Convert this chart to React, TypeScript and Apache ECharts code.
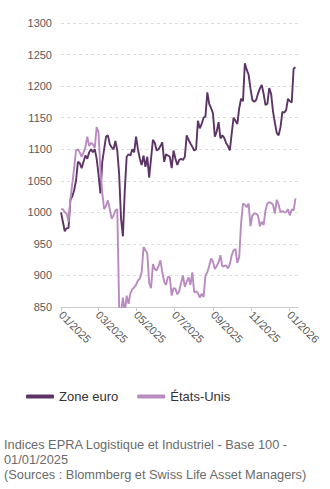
import React, { useEffect, useRef } from 'react';
import * as echarts from 'echarts';

const dates = [
  '2025-01-01','2025-01-04','2025-01-07','2025-01-10','2025-01-13','2025-01-16','2025-01-19','2025-01-22','2025-01-25','2025-01-28','2025-01-31',
  '2025-02-03','2025-02-06','2025-02-09','2025-02-12','2025-02-15','2025-02-18','2025-02-21','2025-02-24','2025-02-27',
  '2025-03-02','2025-03-05','2025-03-08','2025-03-11','2025-03-14','2025-03-17','2025-03-20','2025-03-23','2025-03-26','2025-03-29',
  '2025-04-01','2025-04-04','2025-04-07','2025-04-10','2025-04-13','2025-04-16','2025-04-19','2025-04-22','2025-04-25','2025-04-28',
  '2025-05-01','2025-05-04','2025-05-07','2025-05-10','2025-05-13','2025-05-16','2025-05-19','2025-05-22','2025-05-25','2025-05-28','2025-05-31',
  '2025-06-03','2025-06-06','2025-06-09','2025-06-12','2025-06-15','2025-06-18','2025-06-21','2025-06-24','2025-06-27','2025-06-30',
  '2025-07-03','2025-07-06','2025-07-09','2025-07-12','2025-07-15','2025-07-18','2025-07-21','2025-07-24','2025-07-27','2025-07-30',
  '2025-08-02','2025-08-05','2025-08-08','2025-08-11','2025-08-14','2025-08-17','2025-08-20','2025-08-23','2025-08-26','2025-08-29',
  '2025-09-01','2025-09-04','2025-09-07','2025-09-10','2025-09-13','2025-09-16','2025-09-19','2025-09-22','2025-09-25','2025-09-28',
  '2025-10-01','2025-10-04','2025-10-07','2025-10-10','2025-10-13','2025-10-16','2025-10-19','2025-10-22','2025-10-25','2025-10-28','2025-10-31',
  '2025-11-03','2025-11-06','2025-11-09','2025-11-12','2025-11-15','2025-11-18','2025-11-21','2025-11-24','2025-11-27','2025-11-30',
  '2025-12-03','2025-12-06','2025-12-09','2025-12-12','2025-12-15','2025-12-18','2025-12-21','2025-12-24','2025-12-27','2025-12-30',
  '2026-01-02','2026-01-05','2026-01-08','2026-01-11',
];

const euroValues = [
  1000, 985, 970, 975, 975, 1020, 1025, 1035, 1050, 1080, 1078,
  1070, 1080, 1090, 1085, 1095, 1100, 1095, 1100, 1085,
  1060, 1030, 1080, 1100, 1120, 1122, 1108, 1103, 1100, 1113,
  1098, 1060, 990, 962, 1035, 1088, 1092, 1090, 1100, 1095,
  1120, 1100, 1085, 1075, 1090, 1072, 1088, 1055, 1085, 1115, 1110,
  1098, 1100, 1105, 1111, 1080, 1092, 1090, 1088, 1070, 1098,
  1085, 1075, 1083, 1085, 1083, 1088, 1122, 1115, 1109, 1104,
  1098, 1100, 1145, 1133, 1140, 1150, 1152, 1190, 1172, 1165,
  1157, 1120, 1128, 1143, 1117, 1122, 1118, 1110, 1105, 1098,
  1125, 1150, 1145, 1140, 1165, 1180, 1176, 1236, 1226, 1218, 1196,
  1178, 1175, 1178, 1188, 1196, 1202, 1188, 1170, 1172, 1197,
  1188, 1160, 1142, 1126, 1122, 1135, 1159, 1158, 1162, 1180,
  1176, 1174, 1228, 1230,
];

const usValues = [
  1005, 1005, 1000, 998, 985, 1020, 1045, 1070, 1098, 1100, 1095,
  1088, 1095, 1103, 1120, 1105, 1110, 1108, 1102, 1135,
  1127, 1068, 1030, 1005, 1010, 1019, 1005, 990, 995, 1003,
  1005, 850, 840, 865, 842, 868, 855, 872, 878, 881,
  885, 892, 895, 905, 945, 940, 935, 888, 880, 918, 910,
  908, 915, 924, 905, 890, 885, 898, 897, 868, 880,
  879, 870, 875, 888, 900, 882, 890, 897, 885, 905,
  873, 875, 872, 865, 871, 866, 900, 905, 915, 927,
  922, 910, 915, 921, 932, 914, 915, 916, 911, 918,
  932, 940, 942, 920, 929, 983, 1014, 1012, 1008, 1014, 978,
  995, 998, 998, 995, 978, 985, 980, 1003, 1014, 1016,
  1015, 1012, 998, 1020, 1012, 1000, 1002, 1000, 1000, 1005,
  995, 1005, 1003, 1022,
];

const seriesNames = ['Zone euro', 'États-Unis'];
const seriesColors = ['#5c3566', '#b98bc1'];
const yMin = 850;
const yMax = 1300;
const yStep = 50;
const axisStart = '2025-01-01';
const axisEnd = '2026-01-15';
const labelMonths = ['01', '03', '05', '07', '09', '11'];
const caption = [
  'Indices EPRA Logistique et Industriel - Base 100 -',
  '01/01/2025',
  '(Sources : Blommberg et Swiss Life Asset Managers)',
];

const FONT = '"Liberation Sans", Arial, Helvetica, sans-serif';

function buildDays(start: string, end: string): string[] {
  const out: string[] = [];
  const s = new Date(start + 'T00:00:00Z').getTime();
  const e = new Date(end + 'T00:00:00Z').getTime();
  for (let t = s; t <= e; t += 86400000) {
    out.push(new Date(t).toISOString().slice(0, 10));
  }
  return out;
}

function isLabelDay(v: string): boolean {
  return v.slice(8) === '01' && labelMonths.includes(v.slice(5, 7));
}

export default function App() {
  const ref = useRef<HTMLDivElement>(null);
  useEffect(() => {
    document.body.style.margin = '0';
    if (!ref.current) return;
    const chart = echarts.init(ref.current, null, { renderer: 'svg' });
    const days = buildDays(axisStart, axisEnd);
    const tickFn = (_i: number, v: string) => isLabelDay(v);
    chart.setOption({
      animation: false,
      textStyle: { fontFamily: FONT },
      grid: { left: 61, right: 32, top: 23, bottom: 182 },
      legend: {
        left: 21,
        top: 385,
        icon: 'roundRect',
        itemWidth: 28,
        itemHeight: 4,
        itemGap: 19,
        textStyle: { fontSize: 13, color: '#333', fontFamily: FONT },
        data: seriesNames,
      },
      xAxis: {
        type: 'category',
        data: days,
        boundaryGap: false,
        axisLine: { lineStyle: { color: '#cccccc' } },
        axisTick: { show: true, interval: tickFn, length: 4, lineStyle: { color: '#cccccc' } },
        axisLabel: {
          interval: tickFn,
          rotate: -45,
          margin: 6,
          fontSize: 11,
          color: '#595959',
          fontFamily: FONT,
          formatter: (v: string) => v.slice(5, 7) + '/' + v.slice(0, 4),
        },
        splitLine: { show: false },
      },
      yAxis: {
        type: 'value',
        min: yMin,
        max: yMax,
        interval: yStep,
        axisLine: { show: false },
        axisTick: { show: false },
        axisLabel: {
          margin: 9,
          fontSize: 11,
          color: '#595959',
          fontFamily: FONT,
          formatter: (v: number) => String(v),
        },
        splitLine: { lineStyle: { color: '#dddddd', type: [3, 3] } },
      },
      series: [
        {
          name: seriesNames[0],
          type: 'line',
          data: dates.map((d, i) => [d, euroValues[i]]),
          showSymbol: false,
          symbol: 'none',
          color: seriesColors[0],
          lineStyle: { width: 1.9, color: seriesColors[0] },
        },
        {
          name: seriesNames[1],
          type: 'line',
          data: dates.map((d, i) => [d, usValues[i]]),
          showSymbol: false,
          symbol: 'none',
          color: seriesColors[1],
          lineStyle: { width: 1.9, color: seriesColors[1] },
        },
      ],
      graphic: [
        {
          type: 'text',
          left: 4,
          top: 437,
          style: {
            text: caption.join('\n'),
            fontSize: 12.8,
            lineHeight: 15,
            fill: '#6b6b6b',
            fontFamily: FONT,
          },
        },
      ],
    });
    return () => chart.dispose();
  }, []);
  return <div ref={ref} style={{ width: 330, height: 489 }} />;
}
